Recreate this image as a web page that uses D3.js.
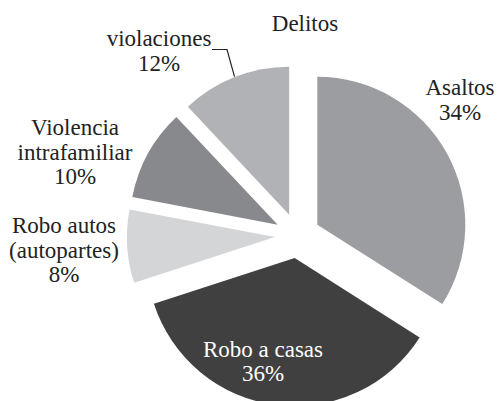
<!DOCTYPE html>
<html>
<head>
<meta charset="utf-8">
<script src="https://cdn.jsdelivr.net/npm/d3@7"></script>
<style>
  svg text, svg tspan { font-family: "Liberation Serif", "DejaVu Serif" !important; font-size: 23px !important; }
</style>
</head>
<body style="margin:0">
<svg id="chart" width="497" height="401"></svg>
<script>
// Crime categories and their shares (%)
const categories = ["Asaltos", "Robo a casas", "Robo autos (autopartes)", "Violencia intrafamiliar", "violaciones"];
const values = [34, 36, 8, 10, 12];
const labelLines = [["Asaltos", "34%"], ["Robo a casas", "36%"], ["Robo autos", "(autopartes)", "8%"], ["Violencia", "intrafamiliar", "10%"], ["violaciones", "12%"]];
const colors = ["#9c9da1", "#404040", "#d4d5d7", "#88898c", "#b1b2b5"];
const title = "Delitos";

// Layout
const cx = 297.5, cy = 235.7;
const radius = 148;
const explode = 22.6;
const lineH = 24.6;
// label block anchors (centre x, first baseline y)
const labelPos = [[460, 95], [263, 356.5], [64, 233], [75, 135], [159, 46]];
const labelFill = ["#222", "#fff", "#222", "#222", "#222"];

const svg = d3.select("#chart");

const pie = d3.pie().sort(null).value(d => d)(values);
const arc = d3.arc().innerRadius(0).outerRadius(radius);

const g = svg.append("g").attr("transform", `translate(${cx},${cy})`);

const slices = g.selectAll("g.slice").data(pie).enter().append("g")
  .attr("class", "slice")
  .attr("transform", d => {
    const a = (d.startAngle + d.endAngle) / 2;
    return `translate(${explode * Math.sin(a)},${-explode * Math.cos(a)})`;
  });

slices.append("path")
  .attr("d", arc)
  .attr("fill", (d, i) => colors[i]);

function serifText(sel) {
  return sel
    .style("font-family", "\"Liberation Serif\", \"DejaVu Serif\"", "important")
    .style("font-size", "23px", "important");
}

// Title
serifText(svg.append("text"))
  .attr("x", 305).attr("y", 30.5)
  .attr("text-anchor", "middle")
  .attr("fill", "#222")
  .text(title);

// Category labels
labelLines.forEach((lines, i) => {
  const t = serifText(svg.append("text"))
    .attr("text-anchor", "middle")
    .attr("fill", labelFill[i]);
  lines.forEach((s, k) => {
    serifText(t.append("tspan"))
      .attr("x", labelPos[i][0])
      .attr("y", labelPos[i][1] + k * lineH)
      .text(s);
  });
});

// Leader line for the "violaciones" label to the outer edge of its slice
{
  const i = 4;
  const d = pie[i];
  const a = (d.startAngle + d.endAngle) / 2;
  const ox = cx + explode * Math.sin(a), oy = cy - explode * Math.cos(a);
  const ex = ox + (radius + 0.5) * Math.sin(a), ey = oy - (radius + 0.5) * Math.cos(a);
  const sx = 212, sy = 49.5, kx = 227;
  svg.append("path")
    .attr("d", `M${sx},${sy}H${kx}L${ex},${ey}`)
    .attr("fill", "none")
    .attr("stroke", "#222")
    .attr("stroke-width", 1.2);
}
</script>
</body>
</html>
